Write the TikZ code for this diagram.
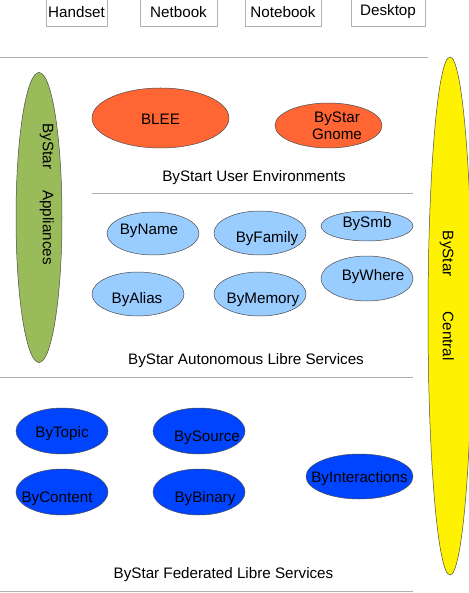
\documentclass[tikz,border=0pt]{standalone}
\usepackage{fontspec}
\setmainfont{Liberation Sans}
\usetikzlibrary{shapes.geometric}

\begin{document}
\begin{tikzpicture}[
        x=1pt, y=-1pt,
        every node/.style={font=\fontsize{15.2}{16.6}\selectfont, inner sep=0pt},
        every label/.append style={yshift=-2pt},
        device/.style={draw=black!30, line width=1pt, minimum height=30pt},
        sep/.style={draw=black!30, line width=1pt},
        oval/.style={ellipse, draw=black!70, line width=0.5pt},
        env/.style={oval, fill=envorange},
        auto/.style={oval, fill=autoblue},
        fed/.style={oval, fill=fedblue},
    ]
    \definecolor{envorange}{HTML}{FF6633}
    \definecolor{autoblue}{HTML}{99CCFF}
    \definecolor{fedblue}{HTML}{0044FF}
    \definecolor{applgreen}{HTML}{99BB5A}
    \useasboundingbox (0,0) rectangle (468,593);

    \node[device, minimum width=61pt] (handset) at (76.5,12) {Handset};
    \node[device, minimum width=77pt] (netbook) at (178.5,12) {Netbook};
    \node[device, minimum width=76pt] (notebook) at (283,12) {Notebook};
    \node[device, minimum width=74pt] (desktop) at (388,12) {Desktop};

    \draw[sep] (0,57.5) -- (428,57.5);
    \draw[sep] (92,194) -- (413,194);
    \draw[sep] (0,377) -- (413,377);
    \draw[sep] (0,591) -- (413,591);

    \node[oval, fill=applgreen, minimum width=46pt, minimum height=290pt] (appl) at (39,217.5) {};
    \node[rotate=-90] (appl-t) at (46.7,194.2) {ByStar\hspace{21pt}Appliances};
    \node[oval, fill=yellow, minimum width=44pt, minimum height=518pt] (central) at (450,316) {};
    \node[rotate=-90] (central-t) at (446.7,295.8) {ByStar\hspace{35pt}Central};

    \node[env, minimum width=137pt, minimum height=60pt,
        label={[yshift=1pt]center:BLEE}] (blee) at (160.5,118) {};
    \node[env, minimum width=107pt, minimum height=45pt,
        label={[align=center, xshift=8.5pt, yshift=1.5pt]center:{ByStar\\Gnome}}] (gnome) at (328.5,125.5) {};
    \node (envs) at (254,178) {ByStart User Environments};

    \node[auto, minimum width=92pt, minimum height=43pt,
        label={[xshift=-4pt, yshift=4.5pt]center:ByName}] (byname) at (153,233.5) {};
    \node[auto, minimum width=92pt, minimum height=44pt,
        label={[xshift=7pt, yshift=-4pt]center:ByFamily}] (byfamily) at (260,233) {};
    \node[auto, minimum width=92pt, minimum height=30pt,
        label={[yshift=4pt]center:BySmb}] (bysmb) at (367,226) {};
    \node[auto, minimum width=92pt, minimum height=44pt,
        label={[xshift=-1pt, yshift=-4pt]center:ByAlias}] (byalias) at (138,294) {};
    \node[auto, minimum width=92pt, minimum height=44pt,
        label={[xshift=3pt, yshift=-4pt]center:ByMemory}] (bymemory) at (260,294) {};
    \node[auto, minimum width=92pt, minimum height=45pt,
        label={[xshift=6pt, yshift=3.5pt]center:ByWhere}] (bywhere) at (367,278.5) {};
    \node (auto-t) at (246,361) {ByStar Autonomous Libre Services};

    \node[fed, minimum width=92pt, minimum height=46pt,
        label={[yshift=-1pt]center:ByTopic}] (bytopic) at (62,431) {};
    \node[fed, minimum width=92pt, minimum height=46pt,
        label={[xshift=8pt, yshift=-5pt]center:BySource}] (bysource) at (199,431) {};
    \node[fed, minimum width=92pt, minimum height=46pt,
        label={[xshift=-5pt, yshift=-5pt]center:ByContent}] (bycontent) at (62,492) {};
    \node[fed, minimum width=92pt, minimum height=46pt,
        label={[xshift=6pt, yshift=-5pt]center:ByBinary}] (bybinary) at (199,492) {};
    \node[fed, minimum width=107pt, minimum height=45pt,
        label={center:ByInteractions}] (byinter) at (359.5,476.5) {};
    \node (fed-t) at (223.5,575) {ByStar Federated Libre Services};

\end{tikzpicture}
\end{document}
